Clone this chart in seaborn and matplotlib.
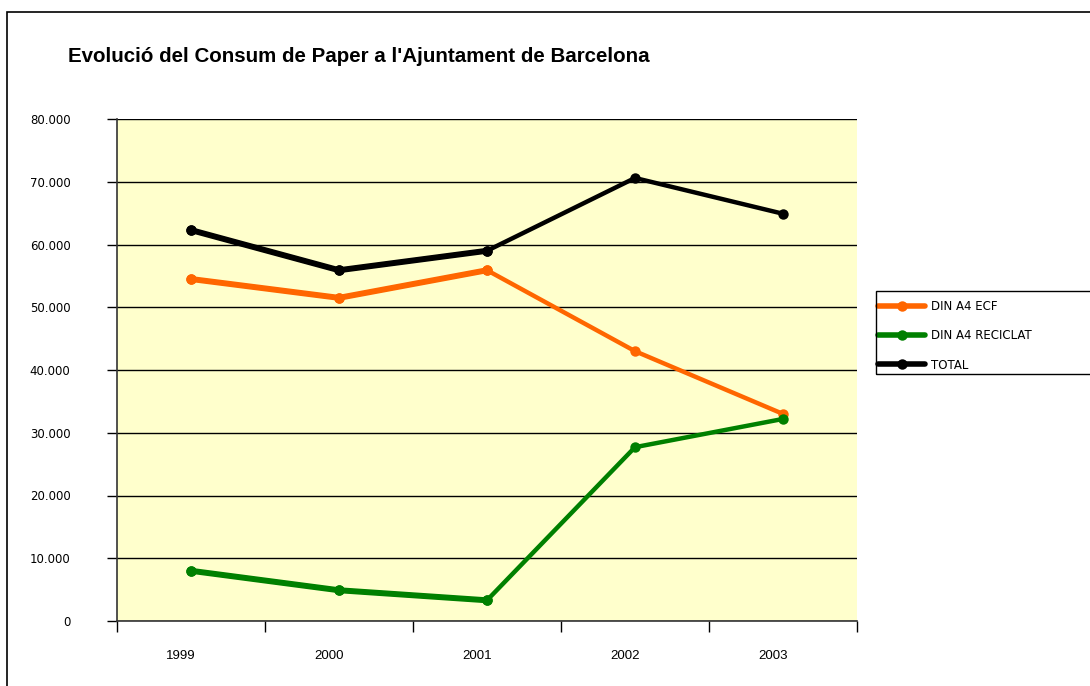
import numpy as np
import pandas as pd
import seaborn as sns
import matplotlib
matplotlib.use("Agg")
import matplotlib.pyplot as plt
from matplotlib.patches import Rectangle
from matplotlib.ticker import FuncFormatter, FixedLocator, NullFormatter
import matplotlib.transforms as mtransforms

years = ["1999", "2000", "2001", "2002", "2003"]
ecf = [54500, 51500, 55900, 43000, 33000]
reciclat = [8000, 4900, 3300, 27700, 32200]
total = [62300, 55900, 59000, 70600, 64900]
series_names = ["DIN A4 ECF", "DIN A4 RECICLAT", "TOTAL"]
colors = ["#FF6600", "#008000", "#000000"]
title = "Evolució del Consum de Paper a l'Ajuntament de Barcelona"

sns.set_theme(style="white")
plt.rcParams["font.family"] = ["DejaVu Sans"]
plt.rcParams["text.color"] = "black"
plt.rcParams["xtick.color"] = "black"
plt.rcParams["ytick.color"] = "black"
plt.rcParams["xtick.labelcolor"] = "black"
plt.rcParams["ytick.labelcolor"] = "black"

rows = []
for name, vals in zip(series_names, [ecf, reciclat, total]):
    for i, (y, v) in enumerate(zip(years, vals)):
        rows.append({"pos": i, "year": y, "value": v, "serie": name})
df = pd.DataFrame(rows)

W, H = 1090, 686
fig = plt.figure(figsize=(W/100, H/100), dpi=100)
fig.patch.set_facecolor("white")
ax = fig.add_axes([117/W, 1-621/H, (857-117)/W, (621-119)/H])
ax.set_facecolor("#FFFFCC")

palette = dict(zip(series_names, colors))
# full series (thinner)
sns.lineplot(data=df, x="pos", y="value", hue="serie", palette=palette,
             hue_order=series_names, marker="o", markersize=7.5,
             markeredgewidth=0, linewidth=3.2, ax=ax, legend=True,
             estimator=None, sort=False)
# first segments are drawn thicker in the original
sub = df[df["pos"] <= 2]
sns.lineplot(data=sub, x="pos", y="value", hue="serie", palette=palette,
             hue_order=series_names, marker="o", markersize=7.5,
             markeredgewidth=0, linewidth=4.3, ax=ax, legend=False,
             estimator=None, sort=False)

ax.set_xlim(-0.5, len(years) - 0.5)
ax.set_ylim(0, 80000)
ax.set_xlabel("")
ax.set_ylabel("")

# gridlines
ax.yaxis.set_major_locator(FixedLocator(np.arange(0, 80001, 10000)))
ax.yaxis.set_major_formatter(FuncFormatter(
    lambda v, p: "0" if v == 0 else f"{int(v):,}".replace(",", ".")))
ax.grid(axis="y", color="black", linewidth=1.0)
ax.grid(axis="x", visible=False)
ax.set_axisbelow(True)

# x ticks: boundaries as major ticks, labels on minor
ax.xaxis.set_major_locator(FixedLocator(np.arange(-0.5, len(years), 1.0)))
ax.xaxis.set_major_formatter(NullFormatter())
ax.xaxis.set_minor_locator(FixedLocator(np.arange(len(years))))
ax.set_xticklabels(years, minor=True)
ax.tick_params(axis="x", which="major", direction="out", length=8, width=1, color="black", bottom=True)
ax.tick_params(axis="x", which="minor", length=0, pad=21, labelsize=9.5, labelcolor="black")
for lbl in ax.get_xticklabels(minor=True):
    lbl.set_fontfamily(["Liberation Sans", "DejaVu Sans"])
    lbl.set_transform(lbl.get_transform() + mtransforms.ScaledTranslation(-10/100, 0, fig.dpi_scale_trans))
ax.tick_params(axis="y", which="major", direction="out", length=7, width=1, color="black", left=True,
               labelsize=8.5, pad=26.5, labelcolor="black")
for lbl in ax.get_yticklabels():
    lbl.set_horizontalalignment("right")

for s in ["top", "right"]:
    ax.spines[s].set_visible(False)
for s in ["left", "bottom"]:
    ax.spines[s].set_visible(True)
    ax.spines[s].set_color("#333333")
    ax.spines[s].set_linewidth(1.2)

# legend (frame drawn separately, it runs off the right edge in the original)
handles, labels = ax.get_legend_handles_labels()
for h in handles:
    h.set_linewidth(4)
    h.set_markersize(7.5)
leg = ax.legend(handles, labels, loc="upper left",
                bbox_to_anchor=(878/W, 1-300/H), bbox_transform=fig.transFigure,
                frameon=False, fontsize=8.5, handlelength=4.0, handletextpad=0.5,
                labelspacing=1.38, borderpad=0, borderaxespad=0)
for t in leg.get_texts():
    t.set_color("black")
fig.patches.append(Rectangle((876/W, 1-374/H), (1100-876)/W, (374-291)/H,
                             transform=fig.transFigure, fill=False, edgecolor="black",
                             linewidth=1.0, figure=fig))

fig.text(68/W, 1-57/H, title, fontsize=14.8, fontweight="bold", color="black",
         family=["Liberation Sans", "DejaVu Sans"], ha="left", va="center")

# outer chart border
fig.patches.append(Rectangle((7/W, -0.05), 1.2, 1-12/H+0.05, transform=fig.transFigure,
                             fill=False, edgecolor="black", linewidth=1.2, figure=fig))

fig.savefig("out.png", dpi=100)
